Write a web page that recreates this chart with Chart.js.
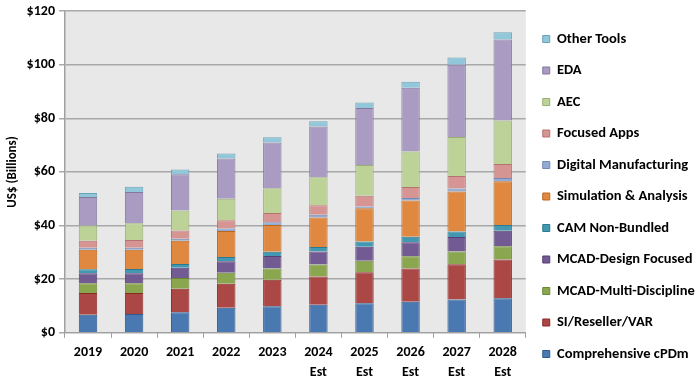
<!DOCTYPE html>
<html>
<head>
<meta charset="utf-8">
<script src="https://cdn.jsdelivr.net/npm/chart.js@4"></script>
<style>
  body { margin: 0; background: #fff; }
  #wrap { width: 700px; height: 383px; }
</style>
</head>
<body>
<div id="wrap"><canvas id="chart"></canvas></div>
<script>
// categories
const years = ['2019', '2020', '2021', '2022', '2023',
    ['2024', 'Est'], ['2025', 'Est'], ['2026', 'Est'], ['2027', 'Est'], ['2028', 'Est']];

// series values, US$ billions (bottom of stack first)
const cpdm       = [6.7, 7.0, 7.7, 9.3, 9.9, 10.5, 11.0, 11.6, 12.4, 12.9];
const siReseller = [8.1, 7.8, 8.7, 9.0, 9.9, 10.5, 11.6, 12.4, 13.2, 14.4];
const mcadMulti  = [3.7, 3.7, 4.0, 4.1, 4.2, 4.5, 4.3, 4.5, 4.7, 5.0];
const mcadDesign = [3.7, 3.7, 3.9, 4.3, 4.6, 4.8, 5.2, 5.3, 5.4, 5.8];
const camNonBundled = [1.5, 1.6, 1.4, 1.6, 1.6, 1.7, 1.9, 2.0, 2.1, 2.1];
const simulation = [7.3, 7.2, 8.6, 9.7, 10.0, 11.0, 12.4, 13.5, 14.9, 16.3];
const digitalMfg = [0.75, 0.75, 0.75, 0.9, 1.0, 1.0, 0.7, 1.0, 1.1, 1.2];
const focusedApps = [2.6, 2.9, 3.1, 3.1, 3.5, 3.6, 4.0, 4.1, 4.7, 5.2];
const aec        = [5.7, 6.2, 7.5, 8.0, 9.2, 10.4, 11.5, 13.2, 14.5, 16.3];
const eda        = [10.6, 11.7, 13.5, 15.0, 17.1, 18.9, 21.2, 23.8, 27.0, 30.2];
const otherTools = [1.5, 1.9, 1.7, 1.9, 1.9, 2.0, 2.1, 2.2, 2.7, 2.7];

// y ticks
const yTicks = [0, 20, 40, 60, 80, 100, 120];

const FONT = 'Carlito, Lato, "Liberation Sans", sans-serif';

const series = [
    { label: 'Comprehensive cPDm', data: cpdm, fill: '#4a78b0', line: '#2f5b8f' },
    { label: 'SI/Reseller/VAR', data: siReseller, fill: '#ab4744', line: '#8a2a27' },
    { label: 'MCAD-Multi-Discipline', data: mcadMulti, fill: '#8aa74f', line: '#6a8733' },
    { label: 'MCAD-Design Focused', data: mcadDesign, fill: '#725a93', line: '#553f73' },
    { label: 'CAM Non-Bundled', data: camNonBundled, fill: '#4198b0', line: '#2b7a90' },
    { label: 'Simulation & Analysis', data: simulation, fill: '#e0883f', line: '#bb6620' },
    { label: 'Digital Manufacturing', data: digitalMfg, fill: '#93abd4', line: '#7189b4' },
    { label: 'Focused Apps', data: focusedApps, fill: '#d69593', line: '#b47371' },
    { label: 'AEC', data: aec, fill: '#bcd297', line: '#98ae74' },
    { label: 'EDA', data: eda, fill: '#a99bc1', line: '#85779f' },
    { label: 'Other Tools', data: otherTools, fill: '#91c7da', line: '#6aa3b8' },
];

const plotBackground = {
    id: 'plotBackground',
    beforeDraw(chart) {
        const { ctx, chartArea } = chart;
        ctx.save();
        ctx.fillStyle = '#e8e8e8';
        ctx.fillRect(chartArea.left, chartArea.top, chartArea.right - chartArea.left, chartArea.bottom - chartArea.top);
        ctx.restore();
    }
};

// nudge the legend block down a little, like the original
const legendShift = {
    id: 'legendShift',
    afterLayout(chart) {
        chart.legend.top += 3;
        chart.legend.bottom += 3;
    }
};

const ctx = document.getElementById('chart').getContext('2d');
new Chart(ctx, {
    type: 'bar',
    data: {
        labels: years,
        datasets: series.map(s => ({
            label: s.label,
            data: s.data,
            backgroundColor: s.fill,
            borderColor: s.line,
            borderWidth: 1,
            barPercentage: 0.8,
            categoryPercentage: 0.5,
        }))
    },
    options: {
        responsive: true,
        maintainAspectRatio: false,
        animation: false,
        layout: { padding: { top: 0, left: 3, right: 0, bottom: -4 } },
        plugins: {
            tooltip: { enabled: false },
            legend: {
                position: 'right',
                reverse: true,
                labels: {
                    boxWidth: 7,
                    boxHeight: 7,
                    padding: 17,
                    color: '#000',
                    font: { family: FONT, size: 14.5, weight: 'bold' }
                }
            }
        },
        scales: {
            x: {
                stacked: true,
                grid: { drawOnChartArea: false, color: '#a0a0a0', tickLength: 5 },
                border: { color: '#a0a0a0', width: 1 },
                ticks: {
                    color: '#000',
                    maxRotation: 0,
                    padding: 5,
                    font: { family: FONT, size: 14, weight: 'bold', lineHeight: 1.4 }
                }
            },
            y: {
                stacked: true,
                min: 0,
                max: 120,
                afterBuildTicks(axis) {
                    axis.ticks = yTicks.map(v => ({ value: v }));
                },
                grid: { color: '#a8a8a8', lineWidth: 1.5, tickLength: 6 },
                border: { color: '#a0a0a0', width: 1.5 },
                ticks: {
                    color: '#000',
                    padding: 4,
                    font: { family: FONT, size: 14, weight: 'bold', lineHeight: 1 },
                    callback: v => '$' + v
                },
                title: {
                    display: true,
                    text: 'US$ (Billions)',
                    color: '#000',
                    padding: 2,
                    font: { family: FONT, size: 13, weight: 'bold' }
                }
            }
        }
    },
    plugins: [plotBackground, legendShift]
});
</script>
</body>
</html>
